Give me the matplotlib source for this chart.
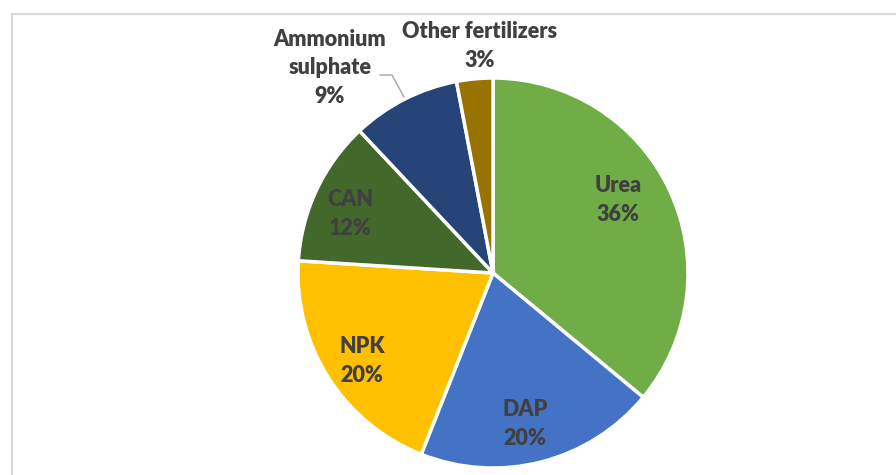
import matplotlib
matplotlib.use("Agg")
import matplotlib.pyplot as plt
from matplotlib.patches import Rectangle

categories = ["Urea", "DAP", "NPK", "CAN", "Ammonium\nsulphate", "Other fertilizers"]
shares = [36, 20, 20, 12, 9, 3]
colors = ["#70AD47", "#4472C4", "#FFC000", "#43682B", "#264478", "#997300"]

W, H = 896, 475
fig = plt.figure(figsize=(W / 100, H / 100), dpi=100)
fig.patch.set_facecolor("white")
fig.add_artist(Rectangle((12 / W, -0.1), 1.2, (H - 14) / H + 0.1, transform=fig.transFigure,
                         fill=False, edgecolor="#D9D9D9", linewidth=1.5))

cx, cy, r = 493, 273, 195
ax = fig.add_axes([(cx - r) / W, (H - cy - r) / H, 2 * r / W, 2 * r / H])
ax.axis("off")

ax.pie(shares, colors=colors, startangle=90, counterclock=False, radius=1,
       wedgeprops=dict(edgecolor="white", linewidth=2.5))
ax.set_xlim(-1, 1)
ax.set_ylim(-1, 1)
ax.set_aspect("auto")

def px(x, y):
    return ((x - cx) / r, (cy - y) / r)

label_pos = [(618, 200), (525, 424), (362, 361), (350, 214), (330, 68), (480, 46)]
tc = "#404040"
for cat, s, (x, y) in zip(categories, shares, label_pos):
    dx, dy = px(x, y)
    ax.text(dx, dy, f"{cat}\n{s}%", ha="center", va="center", fontsize=15.5,
            fontweight="heavy", color=tc, family="Lato", linespacing=1.42, clip_on=False)

# leader line for Ammonium sulphate
pts = [px(380, 75), px(392, 75), px(404, 97)]
ax.plot([p[0] for p in pts], [p[1] for p in pts], color="#A6A6A6", linewidth=1, clip_on=False)

fig.savefig("out.png", dpi=100, facecolor="white")
